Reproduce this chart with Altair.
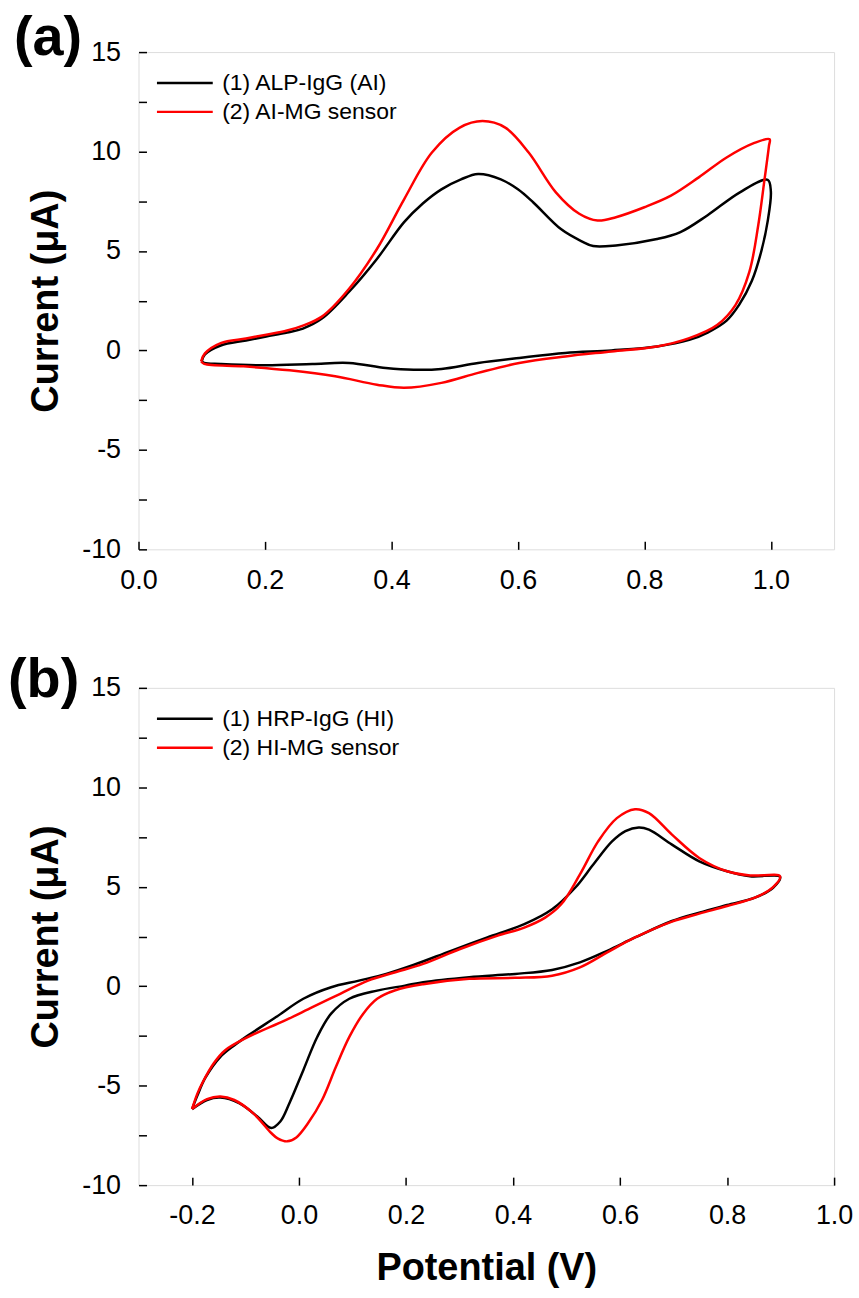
import altair as alt
import pandas as pd

# ---------------- data ----------------
a_labels = ["(1) ALP-IgG (AI)", "(2) AI-MG sensor"]
b_labels = ["(1) HRP-IgG (HI)", "(2) HI-MG sensor"]

a1_x = [0.100, 0.105, 0.13, 0.17, 0.202, 0.235, 0.26, 0.29, 0.333, 0.377, 0.42, 0.45, 0.479, 0.51,
        0.537, 0.573, 0.60, 0.624, 0.668, 0.70, 0.719, 0.755, 0.82, 0.857, 0.90, 0.951, 0.995,
        1.000, 0.995, 0.985, 0.97, 0.95, 0.93, 0.90, 0.871, 0.82, 0.748, 0.675, 0.602, 0.537,
        0.479, 0.435, 0.391, 0.333, 0.275, 0.202, 0.13, 0.104, 0.100]
a1_y = [-0.55, -0.2, 0.25, 0.5, 0.7, 0.9, 1.1, 1.6, 2.95, 4.6, 6.45, 7.4, 8.1, 8.6,
        8.87, 8.6, 8.1, 7.45, 6.1, 5.5, 5.25, 5.28, 5.6, 5.95, 6.8, 7.95, 8.58,
        8.0, 6.5, 5.0, 3.5, 2.3, 1.5, 0.9, 0.53, 0.2, 0.0, -0.13, -0.38, -0.63,
        -0.93, -0.97, -0.88, -0.63, -0.68, -0.75, -0.68, -0.63, -0.55]

a2_x = [0.099, 0.105, 0.13, 0.17, 0.20, 0.235, 0.26, 0.29, 0.333, 0.377, 0.42, 0.464, 0.508,
        0.544, 0.58, 0.617, 0.66, 0.697, 0.726, 0.755, 0.80, 0.842, 0.886, 0.93, 0.973, 0.998,
        0.997, 0.99, 0.98, 0.966, 0.944, 0.915, 0.871, 0.82, 0.748, 0.675, 0.602, 0.537, 0.479,
        0.42, 0.377, 0.311, 0.239, 0.166, 0.104, 0.099]
a2_y = [-0.55, -0.15, 0.37, 0.6, 0.78, 1.0, 1.25, 1.7, 3.1, 5.1, 7.6, 9.95, 11.2,
        11.53, 11.2, 9.95, 7.95, 6.87, 6.53, 6.7, 7.2, 7.78, 8.7, 9.7, 10.42, 10.62,
        10.28, 8.6, 6.28, 3.95, 2.28, 1.28, 0.62, 0.2, -0.05, -0.3, -0.63, -1.13, -1.63,
        -1.88, -1.72, -1.3, -1.0, -0.8, -0.68, -0.55]

b1_x = [-0.2, -0.19, -0.175, -0.147, -0.12, -0.095, -0.043, 0.008, 0.06, 0.112, 0.163, 0.215,
        0.284, 0.352, 0.421, 0.473, 0.516, 0.55, 0.585, 0.61, 0.635, 0.654, 0.697, 0.748, 0.8,
        0.843, 0.899, 0.886, 0.852, 0.8, 0.748, 0.697, 0.628, 0.576, 0.525, 0.473, 0.404, 0.318,
        0.232, 0.198, 0.146, 0.094, 0.06, 0.034, 0.008, -0.018, -0.035, -0.052, -0.078, -0.112,
        -0.147, -0.172, -0.2]
b1_y = [-6.18, -5.5, -4.6, -3.55, -2.95, -2.47, -1.55, -0.63, -0.05, 0.28, 0.62, 1.08,
        1.78, 2.45, 3.12, 3.87, 4.95, 6.12, 7.28, 7.8, 7.98, 7.87, 7.12, 6.28, 5.78,
        5.53, 5.5, 4.95, 4.45, 4.08, 3.7, 3.28, 2.45, 1.78, 1.2, 0.82, 0.62, 0.45,
        0.2, 0.03, -0.22, -0.63, -1.38, -2.55, -4.22, -5.88, -6.8, -7.13, -6.55, -5.88,
        -5.6, -5.72, -6.18]

b2_x = [-0.2, -0.19, -0.181, -0.16, -0.138, -0.095, -0.026, 0.025, 0.077, 0.129, 0.18, 0.232,
        0.301, 0.37, 0.421, 0.46, 0.49, 0.525, 0.559, 0.594, 0.628, 0.654, 0.697, 0.748, 0.8,
        0.843, 0.899, 0.886, 0.852, 0.8, 0.748, 0.697, 0.628, 0.576, 0.525, 0.473, 0.404, 0.318,
        0.232, 0.18, 0.146, 0.12, 0.094, 0.069, 0.043, 0.017, -0.005, -0.022, -0.04, -0.052,
        -0.086, -0.121, -0.147, -0.172, -0.2]
b2_y = [-6.18, -5.4, -4.88, -3.9, -3.22, -2.55, -1.72, -1.05, -0.38, 0.28, 0.7, 1.12,
        1.87, 2.53, 2.95, 3.45, 4.12, 5.62, 7.28, 8.45, 8.9, 8.7, 7.62, 6.45, 5.78,
        5.57, 5.53, 4.98, 4.45, 4.03, 3.65, 3.25, 2.45, 1.7, 0.95, 0.53, 0.42, 0.37,
        0.1, -0.2, -0.63, -1.38, -2.55, -4.05, -5.72, -6.88, -7.6, -7.8, -7.65, -7.38,
        -6.38, -5.72, -5.55, -5.68, -6.18]

y_ticks = [-10, -7.5, -5, -2.5, 0, 2.5, 5, 7.5, 10, 12.5, 15]
a_xticks = [0.0, 0.2, 0.4, 0.6, 0.8, 1.0]
b_xticks = [-0.2, 0.0, 0.2, 0.4, 0.6, 0.8, 1.0]
a_xdomain = [0.0, 1.1]
b_xdomain = [-0.3, 1.0]
y_domain = [-10, 15]

W, H = 698, 499
FONT = "Liberation Sans"


def curve_df(xs, ys, label):
    return pd.DataFrame({"x": xs, "y": ys, "i": list(range(len(xs))), "series": label})


def panel(dfs, labels, xdomain, xticks, tag, tag_dx, tag_dy, xtitle):
    df = pd.concat(dfs, ignore_index=True)
    x_axis = alt.Axis(
        values=xticks, domain=False, grid=False, tickSize=8, tickWidth=1.5, tickColor="black",
        offset=-8, labelFontSize=27, labelFont=FONT, labelColor="black", labelPadding=18,
        labelFlush=False, labelOverlap=False,
        labelExpr="replace(format(datum.value, '.1f'), '\u2212', '-')",
        title=xtitle if xtitle else None,
        titleFont=FONT, titleFontSize=38, titleFontWeight="bold", titleColor="black",
        titleBaseline="alphabetic", titleY=103, titleX=W / 2,
    )
    y_axis = alt.Axis(
        values=y_ticks, domain=False, grid=False, tickSize=8, tickWidth=1.5, tickColor="black",
        offset=-8, labelFontSize=27, labelFont=FONT, labelColor="black", labelPadding=18,
        labelFlush=False, labelOverlap=False,
        labelExpr="datum.value % 5 == 0 ? replace(format(datum.value, 'd'), '\u2212', '-') : ''",
        title="Current (\u03bcA)", titleFont=FONT, titleFontSize=38, titleFontWeight="bold",
        titleColor="black", titleBaseline="alphabetic", titleX=-89, titleY=H / 2,
        titleAngle=270,
    )
    lines = alt.Chart(df).mark_line(strokeWidth=2.5, clip=True, interpolate="catmull-rom").encode(
        x=alt.X("x:Q", scale=alt.Scale(domain=xdomain, nice=False, zero=False), axis=x_axis),
        y=alt.Y("y:Q", scale=alt.Scale(domain=y_domain, nice=False, zero=False), axis=y_axis),
        color=alt.Color(
            "series:N",
            scale=alt.Scale(domain=labels, range=["#000000", "#ff0000"]),
            legend=alt.Legend(
                title=None, orient="none", legendX=17, legendY=19, padding=0,
                symbolType="stroke", symbolSize=3136, symbolStrokeWidth=2.5,
                labelFontSize=23, labelFont=FONT, labelColor="black", labelOffset=8,
                labelLimit=0, clipHeight=24, rowPadding=5,
            ),
        ),
        order=alt.Order("i:Q"),
    )
    tag_text = alt.Chart(pd.DataFrame({"t": [tag]})).mark_text(
        font=FONT, fontSize=56, fontWeight="bold", align="left", baseline="alphabetic",
        color="black",
    ).encode(text="t:N", x=alt.value(tag_dx), y=alt.value(tag_dy))
    return alt.layer(lines, tag_text).properties(width=W, height=H)


pa = panel([curve_df(a1_x, a1_y, a_labels[0]), curve_df(a2_x, a2_y, a_labels[1])],
           a_labels, a_xdomain, a_xticks, "(a)", -125, 3, None)
pb = panel([curve_df(b1_x, b1_y, b_labels[0]), curve_df(b2_x, b2_y, b_labels[1])],
           b_labels, b_xdomain, b_xticks, "(b)", -131, 9, "Potential (V)")

chart = alt.vconcat(pa, pb, spacing=57).resolve_scale(
    color="independent", x="independent"
).resolve_legend(color="independent").properties(
    padding={"left": 7, "top": 7, "right": 5, "bottom": 5}
).configure_view(stroke="black", strokeWidth=1.5).configure(background="white")

chart.save("out.html", embed_options={"renderer": "svg", "actions": False})
